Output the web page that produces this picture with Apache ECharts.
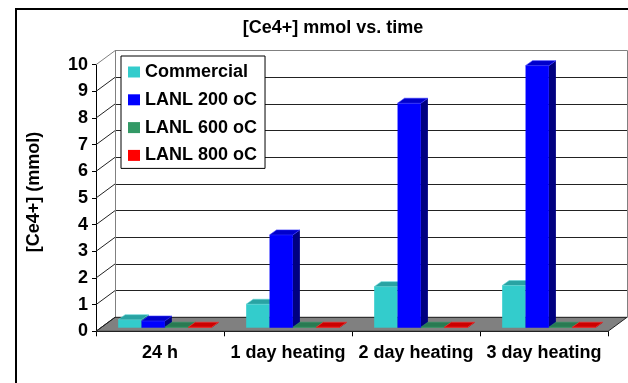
<!DOCTYPE html>
<html><head><meta charset="utf-8">
<script src="https://cdn.jsdelivr.net/npm/echarts@6/dist/echarts.min.js"></script>
<style>html,body{margin:0;padding:0;background:#fff}#c{width:628px;height:383px}</style>
</head><body><div id="c"></div>
<script>
const categories = ['24 h', '1 day heating', '2 day heating', '3 day heating'];
const seriesNames = ['Commercial', 'LANL 200 oC', 'LANL 600 oC', 'LANL 800 oC'];
const commercial = [0.3, 0.88, 1.54, 1.58];
const lanl200 = [0.25, 3.48, 8.42, 9.83];
const lanl600 = [0.02, 0.02, 0.02, 0.02];
const lanl800 = [0.02, 0.02, 0.02, 0.02];
const yTicks = [0, 1, 2, 3, 4, 5, 6, 7, 8, 9, 10];

const allValues = [commercial, lanl200, lanl600, lanl800];
const FONT = '"Liberation Sans", Arial, sans-serif';
const frontColors = ['#33CCCC', '#0000FF', '#339966', '#FF0000'];
const topColors = ['#29A3A3', '#0000CC', '#297A52', '#CC0000'];
const sideColors = ['#1A6666', '#000080', '#1A4D33', '#800000'];
const edgeColors = ['#5CD6D6', '#3333FF', '#339966', '#FF3333'];
const DEPTH = [19, -14];
const BAR_OFF = [4.9, -3.6];
const BAR_DEPTH = [7, -5];
const GROUP_FRAC = 0.73;

function barRenderer(s) {
  return function (params, api) {
    const i = api.value(0), v = api.value(1);
    const base = api.coord([i, 0]);
    const top = api.coord([i, v]);
    const band = api.size([1, 0])[0];
    const gw = band * GROUP_FRAC, bw = gw / allValues.length;
    const x = base[0] - gw / 2 + s * bw + BAR_OFF[0];
    const yb = base[1] + BAR_OFF[1];
    const yt = top[1] + BAR_OFF[1];
    const dx = BAR_DEPTH[0], dy = BAR_DEPTH[1];
    return {
      type: 'group', children: [
        { type: 'polygon', shape: { points: [[x + bw, yt], [x + bw + dx, yt + dy], [x + bw + dx, yb + dy], [x + bw, yb]] }, style: { fill: sideColors[s] } },
        { type: 'rect', shape: { x: x, y: yt, width: bw, height: yb - yt }, style: { fill: frontColors[s] } },
        { type: 'polygon', shape: { points: [[x, yt], [x + bw, yt], [x + bw + dx, yt + dy], [x + dx, yt + dy]] }, style: { fill: topColors[s], stroke: edgeColors[s], lineWidth: 0.6 } }
      ]
    };
  };
}

const gridLineColors = yTicks.map((v, k) => k === yTicks.length - 1 ? '#808080' : '#222');

const series = [
  {
    type: 'custom', name: 'floor', xAxisIndex: 0, yAxisIndex: 0, silent: true,
    data: [[0, 0]], encode: { x: 0, y: 1 },
    renderItem(params, api) {
      const band = api.size([1, 0])[0];
      const l = api.coord([0, 0]);
      const r = api.coord([categories.length - 1, 0]);
      const x0 = l[0] - band / 2, x1 = r[0] + band / 2, y = l[1];
      return {
        type: 'polygon',
        shape: { points: [[x0, y], [x1, y], [x1 + DEPTH[0], y + DEPTH[1]], [x0 + DEPTH[0], y + DEPTH[1]]] },
        style: { fill: '#808080', stroke: '#222', lineWidth: 1 }
      };
    }
  },
  {
    type: 'custom', name: 'wall', xAxisIndex: 0, yAxisIndex: 0, silent: true,
    data: yTicks.map(v => [0, v]), encode: { x: 0, y: 1 },
    renderItem(params, api) {
      const v = api.value(1);
      const p = api.coord([0, v]);
      const band = api.size([1, 0])[0];
      const x = p[0] - band / 2;
      const last = v === yTicks[yTicks.length - 1];
      return {
        type: 'line',
        shape: { x1: x, y1: p[1], x2: x + DEPTH[0], y2: p[1] + DEPTH[1] },
        style: { stroke: last ? '#808080' : '#222', lineWidth: 1 }
      };
    }
  }
];
allValues.forEach((vals, s) => {
  series.push({
    type: 'custom', name: seriesNames[s], xAxisIndex: 0, yAxisIndex: 0,
    itemStyle: { color: frontColors[s] },
    data: vals.map((v, i) => [i, v]), encode: { x: 0, y: 1 },
    renderItem: barRenderer(s)
  });
});

const chart = echarts.init(document.getElementById('c'), null, { renderer: 'canvas' });
chart.setOption({
  backgroundColor: '#fff',
  animation: false,
  title: {
    text: '[Ce4+] mmol vs. time', left: 333, top: 18, textAlign: 'center', padding: 0,
    textStyle: { fontFamily: FONT, fontSize: 18, fontWeight: 'bold', color: '#000', lineHeight: 20 }
  },
  legend: {
    data: seriesNames, orient: 'vertical', left: 121, top: 56, icon: 'rect',
    itemWidth: 12, itemHeight: 11, itemGap: 7.8, padding: [6, 8, 3, 7],
    backgroundColor: '#fff', borderColor: '#000', borderWidth: 1,
    textStyle: { fontFamily: FONT, fontSize: 18, fontWeight: 'bold', color: '#000', lineHeight: 20 }
  },
  grid: [
    { left: 96, right: 20, top: 64.7, bottom: 51.7 },
    { left: 115, right: 1, top: 50.7, bottom: 65.7 }
  ],
  xAxis: [
    {
      type: 'category', gridIndex: 0, data: categories,
      axisLine: { show: true, lineStyle: { color: '#000', width: 1 } },
      axisTick: { show: true, length: 5, lineStyle: { color: '#000' } },
      axisLabel: { interval: 0, fontFamily: FONT, fontSize: 18, fontWeight: 'bold', color: '#000', margin: 12, lineHeight: 20 },
      splitLine: { show: false }
    },
    { type: 'category', gridIndex: 1, data: categories, show: false }
  ],
  yAxis: [
    {
      type: 'value', gridIndex: 0, min: 0, max: 10, interval: 1,
      axisLine: { show: true, lineStyle: { color: '#000', width: 1 } },
      axisTick: { show: true, length: 4, lineStyle: { color: '#000' } },
      axisLabel: { fontFamily: FONT, fontSize: 18, fontWeight: 'bold', color: '#000', margin: 8 },
      splitLine: { show: false }
    },
    {
      type: 'value', gridIndex: 1, min: 0, max: 10, interval: 1,
      axisLine: { show: true, lineStyle: { color: '#808080' } },
      axisTick: { show: false }, axisLabel: { show: false },
      splitLine: { show: true, lineStyle: { color: gridLineColors, width: 1 } }
    },
    {
      type: 'value', gridIndex: 1, min: 0, max: 10, interval: 1, position: 'right',
      axisLine: { show: true, lineStyle: { color: '#808080' } },
      axisTick: { show: false }, axisLabel: { show: false }, splitLine: { show: false }
    }
  ],
  graphic: [
    {
      type: 'rect', z: -10, silent: true,
      shape: { x: 16, y: 9, width: 800, height: 600 },
      style: { fill: 'none', stroke: '#000', lineWidth: 2 }
    },
    {
      type: 'text', x: 34, y: 192, rotation: Math.PI / 2, silent: true,
      style: { text: '[Ce4+] (mmol)', align: 'center', verticalAlign: 'middle', font: 'bold 18px ' + FONT, fill: '#000' }
    }
  ],
  series: series
});
</script>
</body></html>
